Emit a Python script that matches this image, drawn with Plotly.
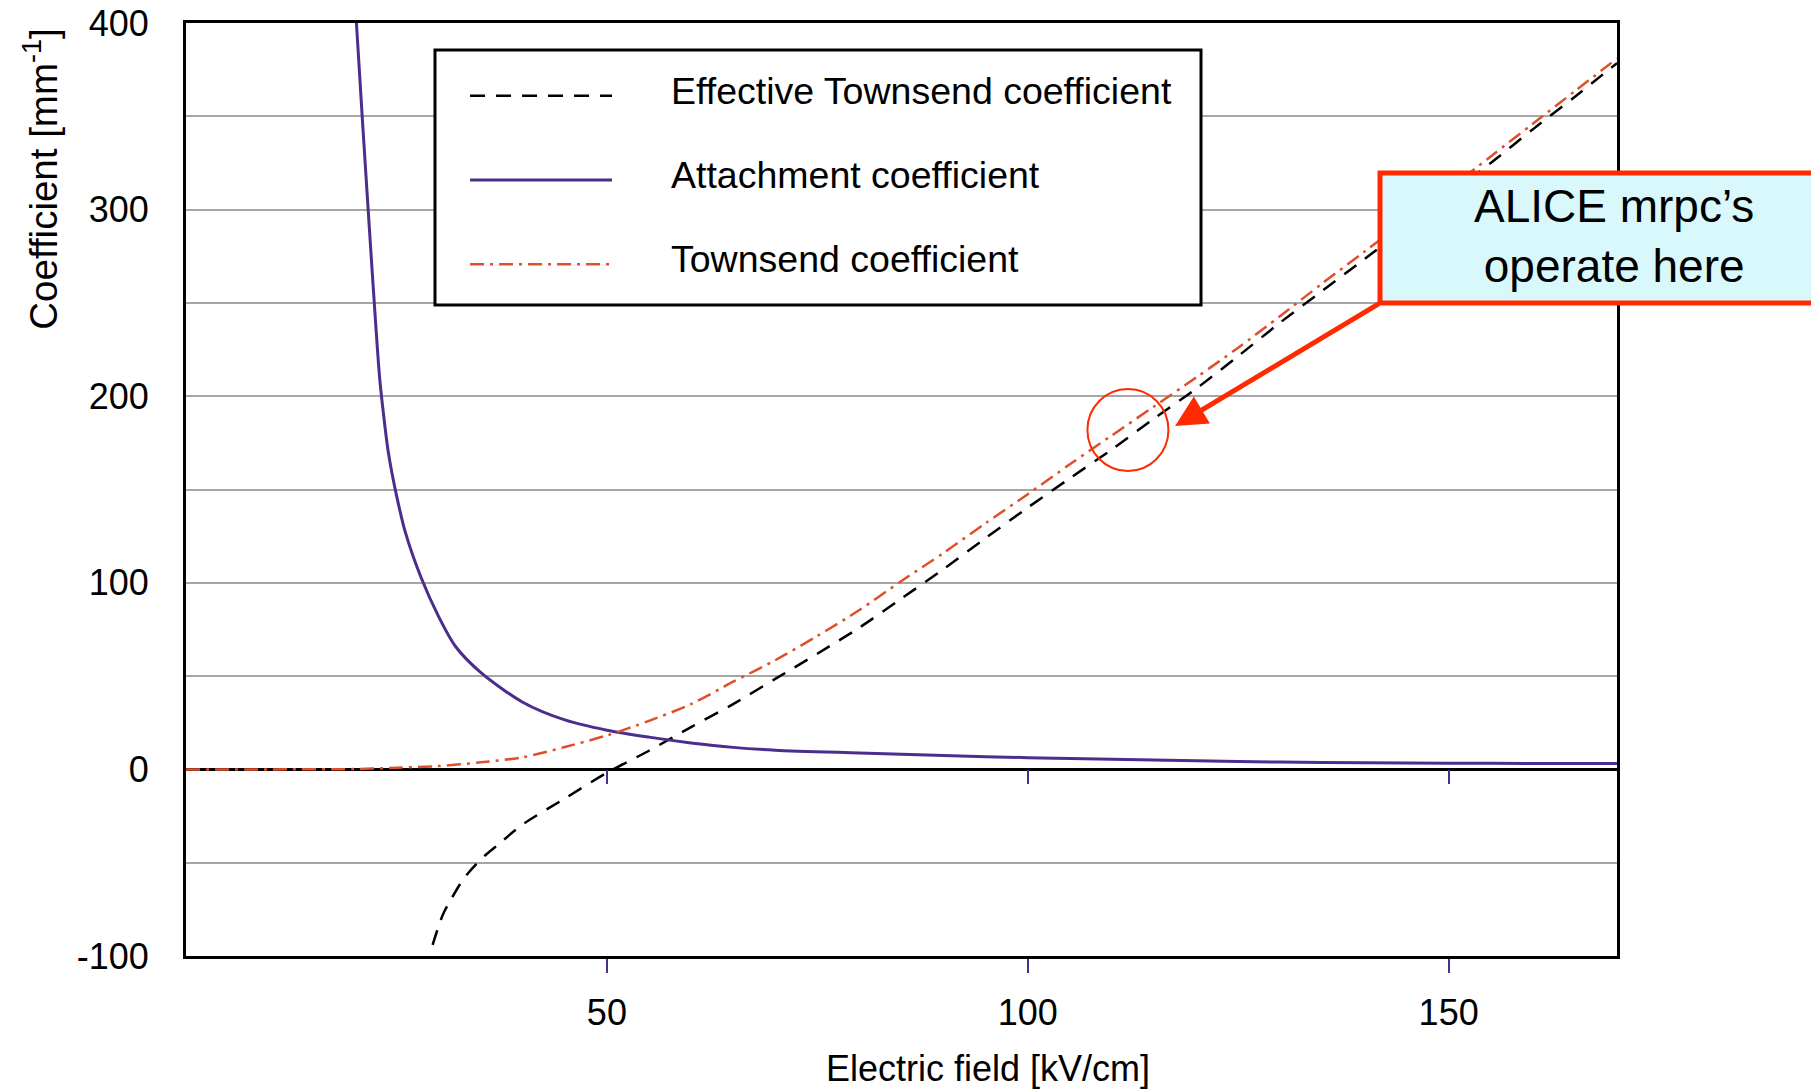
import plotly.graph_objects as go

# Electric field samples [kV/cm] and coefficients [1/mm]
field_townsend = [0, 10, 20, 25, 30, 35, 40, 45, 50, 55, 60, 65, 70, 75, 80, 85,
                  90, 95, 100, 105, 110, 115, 120, 125, 130, 135, 140, 145, 150,
                  155, 160, 165, 170]
townsend = [0, 0, 0.2, 0.9, 1.8, 3.8, 6.5, 12, 18.2, 26, 35, 47, 58.5, 71.5, 85.4,
            101, 116, 132, 147.5, 163.5, 179, 194.5, 210, 226, 243, 260.5, 277.5,
            294.5, 311, 328.5, 346, 363.5, 381]

field_attach = [20, 21, 22, 22.5, 23, 23.5, 24, 24.5, 25, 26, 28, 30, 32, 35, 40,
                45, 50, 55, 60, 65, 70, 80, 90, 100, 110, 120, 130, 140, 150, 160,
                170]
attachment = [418, 345, 275, 241, 210, 189, 171, 158, 147, 128, 102, 82, 66, 52,
              36, 26.5, 21, 17.3, 14.2, 11.8, 10.3, 8.8, 7.4, 6.3, 5.4, 4.6, 3.9,
              3.5, 3.3, 3.2, 3.1]

field_eff = [29.3, 30.5, 31.5, 33, 35, 37, 40, 45, 50, 55, 60, 65, 70, 75,
             80, 85, 90, 95, 100, 105, 110, 115, 120, 125, 130, 135, 140, 145,
             150, 155, 160, 165, 170]
effective = [-94, -78, -69.5, -58.5, -48.3, -40.6, -29.5, -15.6, -1.8,
             10, 22.7, 35, 48.5, 62, 76, 91.6, 107.4, 124, 140.3, 156, 171.5, 188,
             204, 221.5, 239.5, 256.5, 273.5, 290.7, 307.8, 325, 343, 360.5, 378.5]

series_names = ["Effective Townsend coefficient", "Attachment coefficient",
                "Townsend coefficient"]
x_ticks = [50, 100, 150]
y_ticks = [-100, 0, 100, 200, 300, 400]
y_tick_labels = ["-100", "0", "100", "200", "300", "400"]
y_minor_grid = [-50, 50, 150, 250, 350]

FONT = "Liberation Sans, Arial, Helvetica, sans-serif"
PURPLE = "#4a2d8c"
ORANGE = "#df4f2a"
RED = "#ff2a00"
GRID = "#a6a6a6"

DASH_EFF = "15px,11px"
DASH_TOWN = "14px,6px,3px,6px"

fig = go.Figure()

fig.add_trace(go.Scatter(x=field_eff, y=effective, mode="lines",
                         name=series_names[0], showlegend=False,
                         line=dict(color="black", width=2.5, dash=DASH_EFF,
                                   shape="spline", smoothing=0.8)))
fig.add_trace(go.Scatter(x=field_attach, y=attachment, mode="lines",
                         name=series_names[1], showlegend=False,
                         line=dict(color=PURPLE, width=3, shape="spline",
                                   smoothing=0.8)))
fig.add_trace(go.Scatter(x=field_townsend, y=townsend, mode="lines",
                         name=series_names[2], showlegend=False,
                         line=dict(color=ORANGE, width=2.5, dash=DASH_TOWN,
                                   shape="spline", smoothing=0.8)))
# carrier for the tick marks drawn along the zero line
fig.add_trace(go.Scatter(x=[], y=[], xaxis="x2", showlegend=False,
                         hoverinfo="skip"))

shapes = []
annotations = []

# legend box
shapes.append(dict(type="rect", xref="paper", yref="paper",
                   x0=0.174, x1=0.7093, y0=0.6977, y1=0.9711,
                   line=dict(color="black", width=3), fillcolor="white",
                   layer="above"))
legend_rows = [0.9220, 0.8317, 0.7414]
legend_text_y = [0.9270, 0.8370, 0.7470]
legend_styles = [dict(color="black", width=2.5, dash=DASH_EFF),
                 dict(color=PURPLE, width=3),
                 dict(color=ORANGE, width=2.5, dash=DASH_TOWN)]
for name, ly, ty, style in zip(series_names, legend_rows, legend_text_y,
                               legend_styles):
    shapes.append(dict(type="line", xref="paper", yref="paper",
                       x0=0.1985, x1=0.2977, y0=ly, y1=ly, line=style,
                       layer="above"))
    annotations.append(dict(xref="paper", yref="paper", x=0.3375, y=ty,
                            xanchor="left", yanchor="middle", showarrow=False,
                            text=name, font=dict(family=FONT, size=37.5,
                                                 color="black")))

# highlighted operating region
shapes.append(dict(type="circle", xref="x", yref="y", xsizemode="pixel",
                   ysizemode="pixel", xanchor=111.9, yanchor=181.9,
                   x0=-40.5, x1=40.5, y0=-41, y1=41,
                   line=dict(color=RED, width=2), layer="above"))

# callout box
shapes.append(dict(type="rect", xref="paper", yref="paper",
                   x0=0.8344, x1=1.1614, y0=0.6999, y1=0.8392,
                   line=dict(color=RED, width=5), fillcolor="#d8f8fc",
                   layer="above"))
annotations.append(dict(xref="paper", yref="paper", x=0.998, y=0.7717,
                        xanchor="center", yanchor="middle", showarrow=False,
                        text="ALICE mrpc’s<br>operate here",
                        font=dict(family=FONT, size=46, color="black")))
annotations.append(dict(x=117.5, y=184.0, xref="x", yref="y", text="",
                        showarrow=True, ax=205, ay=-123, arrowhead=2,
                        arrowsize=1.25, arrowwidth=5, arrowcolor=RED,
                        standoff=0, startstandoff=0))

# axis titles
annotations.append(dict(xref="paper", yref="paper", x=0.5603, y=-0.1205,
                        xanchor="center", yanchor="middle", showarrow=False,
                        text="Electric field [kV/cm]",
                        font=dict(family=FONT, size=36, color="black")))
annotations.append(dict(xref="paper", yref="paper", x=-0.1015, y=0.8328,
                        xanchor="center", yanchor="middle", showarrow=False,
                        textangle=-90, text="Coefficient [mm<sup>-1</sup>]",
                        font=dict(family=FONT, size=38.5, color="black")))

fig.update_layout(
    width=1811, height=1090,
    margin=dict(l=186, r=194, t=23, b=134, pad=0, autoexpand=False),
    plot_bgcolor="white", paper_bgcolor="white",
    font=dict(family=FONT, size=36, color="black"),
    showlegend=False,
    shapes=shapes, annotations=annotations,
    xaxis=dict(range=[0, 170], tickvals=x_ticks, ticks="outside", ticklen=14,
               tickwidth=2, tickcolor=PURPLE, showgrid=False, zeroline=False,
               showline=True, linecolor="black", linewidth=3, mirror=True,
               tickfont=dict(family=FONT, size=36, color="black"),
               ticklabelstandoff=9, automargin=False),
    xaxis2=dict(range=[0, 170], tickvals=x_ticks, overlaying="x",
                anchor="free", position=0.2, side="bottom", ticks="outside",
                ticklen=14, tickwidth=2, tickcolor=PURPLE,
                showticklabels=False, showgrid=False, zeroline=False,
                showline=False, automargin=False),
    yaxis=dict(range=[-100, 400], tickvals=y_ticks, ticktext=y_tick_labels,
               ticks="", showgrid=True, gridcolor=GRID, gridwidth=1.5,
               minor=dict(tickvals=y_minor_grid, showgrid=True,
                          gridcolor=GRID, gridwidth=1.5, ticks=""),
               zeroline=True, zerolinecolor="black", zerolinewidth=3,
               showline=True, linecolor="black", linewidth=3, mirror=True,
               tickfont=dict(family=FONT, size=36, color="black"),
               ticklabelstandoff=27, automargin=False),
)

fig.write_html("out.html")
